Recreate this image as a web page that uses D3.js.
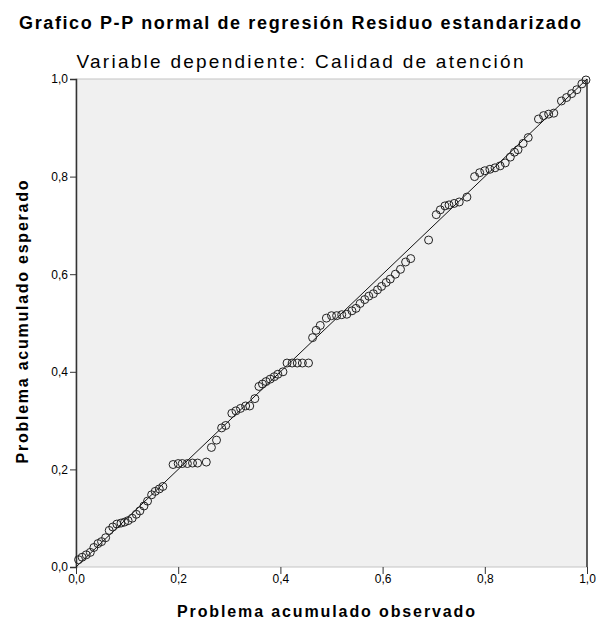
<!DOCTYPE html>
<html>
<head>
<meta charset="utf-8">
<script src="https://cdn.jsdelivr.net/npm/d3@7"></script>
<style>
    body { margin: 0; background: #fff; }
    text { font-family: "Liberation Sans", Arial, sans-serif; fill: #000; }
</style>
</head>
<body>
<script>
const title = "Grafico P-P normal de regresión Residuo estandarizado";
const subtitle = "Variable dependiente: Calidad de atención";
const xLabel = "Problema acumulado observado";
const yLabel = "Problema acumulado esperado";
const tickValues = [0, 0.2, 0.4, 0.6, 0.8, 1.0];

// observed cumulative probability
const observed = [
    0.005, 0.012, 0.020, 0.028, 0.035, 0.043, 0.050, 0.058, 0.065, 0.072,
    0.080, 0.088, 0.095, 0.102, 0.110, 0.118, 0.125, 0.133, 0.140, 0.148,
    0.155, 0.163, 0.170, 0.190, 0.200, 0.208, 0.218, 0.228, 0.238, 0.255,
    0.265, 0.275, 0.285, 0.293, 0.305, 0.313, 0.322, 0.332, 0.340, 0.350,
    0.358, 0.365, 0.372, 0.380, 0.388, 0.395, 0.405, 0.413, 0.423, 0.433,
    0.443, 0.455, 0.463, 0.470, 0.478, 0.490, 0.500, 0.510, 0.520, 0.530,
    0.540, 0.548, 0.556, 0.565, 0.573, 0.582, 0.590, 0.598, 0.607, 0.615,
    0.625, 0.635, 0.645, 0.655, 0.690, 0.705, 0.713, 0.722, 0.730, 0.740,
    0.750, 0.765, 0.780, 0.790, 0.800, 0.810, 0.820, 0.830, 0.840, 0.850,
    0.858, 0.865, 0.875, 0.885, 0.905, 0.915, 0.925, 0.935, 0.950, 0.960,
    0.970, 0.980, 0.990, 0.998
];

// expected cumulative probability
const expected = [
    0.015, 0.020, 0.025, 0.030, 0.040, 0.048, 0.052, 0.060, 0.075, 0.082,
    0.088, 0.090, 0.092, 0.095, 0.100, 0.108, 0.115, 0.125, 0.135, 0.148,
    0.155, 0.160, 0.165, 0.210, 0.212, 0.212, 0.212, 0.213, 0.213, 0.215,
    0.245, 0.260, 0.285, 0.290, 0.315, 0.320, 0.325, 0.330, 0.330, 0.345,
    0.370, 0.375, 0.380, 0.385, 0.390, 0.395, 0.400, 0.418, 0.418, 0.418,
    0.418, 0.418, 0.470, 0.485, 0.495, 0.510, 0.515, 0.515, 0.517, 0.518,
    0.525, 0.530, 0.540, 0.548, 0.555, 0.560, 0.568, 0.575, 0.583, 0.590,
    0.600, 0.610, 0.625, 0.632, 0.670, 0.722, 0.732, 0.740, 0.742, 0.745,
    0.748, 0.758, 0.800, 0.808, 0.812, 0.815, 0.818, 0.822, 0.828, 0.840,
    0.850, 0.855, 0.868, 0.880, 0.918, 0.925, 0.928, 0.930, 0.955, 0.962,
    0.970, 0.978, 0.990, 0.998
];

let width = 596, height = 626;
let plotLeft = 76, plotRight = 587, plotTop = 79, plotBottom = 567;

var svg = d3.select("body")
            .append("svg")
            .attr("width", width)
            .attr("height", height);

var xScale = d3.scaleLinear()
            .domain([0, 1])
            .range([plotLeft, plotRight]);

var yScale = d3.scaleLinear()
            .domain([0, 1])
            .range([plotBottom, plotTop]);

// plot background
svg.append("rect")
    .attr("x", plotLeft)
    .attr("y", plotTop)
    .attr("width", plotRight - plotLeft)
    .attr("height", plotBottom - plotTop)
    .attr("fill", "#f0f0f0")
    .attr("stroke", "#c4c4c4");

svg.append("line")
    .attr("x1", plotRight).attr("x2", plotRight)
    .attr("y1", plotTop).attr("y2", plotBottom)
    .style("stroke", "#333")
    .style("stroke-width", 1.5);

var fmt = (d) => d3.format(".1f")(d).replace(".", ",");

var xAxis = d3.axisBottom()
            .scale(xScale)
            .tickValues(tickValues)
            .tickSize(7)
            .tickFormat(fmt);

var yAxis = d3.axisLeft()
            .scale(yScale)
            .tickValues(tickValues)
            .tickSize(6)
            .tickFormat(fmt);

var gx = svg.append("g")
    .attr("transform", `translate(0, ${plotBottom})`)
    .call(xAxis);
gx.select(".domain").remove();
gx.selectAll("line").attr("stroke", "#333");
gx.selectAll("text").attr("font-size", 12).attr("dy", "0.5em").attr("fill", "#222");

var gy = svg.append("g")
    .attr("transform", `translate(${plotLeft}, 0)`)
    .call(yAxis);
gy.select(".domain").attr("stroke", "#333").attr("stroke-width", 1.5);
gy.selectAll("line").attr("stroke", "#333");
gy.selectAll("text").attr("font-size", 12).attr("x", -8).attr("fill", "#222");

// reference diagonal
svg.append("line")
    .attr("x1", xScale(0))
    .attr("y1", yScale(0))
    .attr("x2", xScale(1))
    .attr("y2", yScale(1))
    .style("stroke", "#111")
    .style("stroke-width", 1);

for(let i = 0; i < observed.length; i++){
    svg.append("circle")
        .attr("cx", xScale(observed[i]))
        .attr("cy", yScale(expected[i]))
        .attr("r", 4)
        .attr("fill", "none")
        .attr("stroke", "#222")
        .attr("stroke-width", 1);
}

// titles
svg.append("text")
    .attr("x", 300)
    .attr("y", 29)
    .attr("text-anchor", "middle")
    .attr("font-size", 18)
    .attr("font-weight", "bold")
    .attr("textLength", 562)
    .text(title);

svg.append("text")
    .attr("x", 300)
    .attr("y", 68)
    .attr("text-anchor", "middle")
    .attr("font-size", 19)
    .attr("textLength", 447)
    .text(subtitle);

svg.append("text")
    .attr("x", 326)
    .attr("y", 617)
    .attr("text-anchor", "middle")
    .attr("font-size", 16)
    .attr("font-weight", "bold")
    .attr("textLength", 298)
    .text(xLabel);

svg.append("text")
    .attr("transform", "translate(28, 322) rotate(-90)")
    .attr("text-anchor", "middle")
    .attr("font-size", 16)
    .attr("font-weight", "bold")
    .attr("textLength", 283)
    .text(yLabel);
</script>
</body>
</html>
